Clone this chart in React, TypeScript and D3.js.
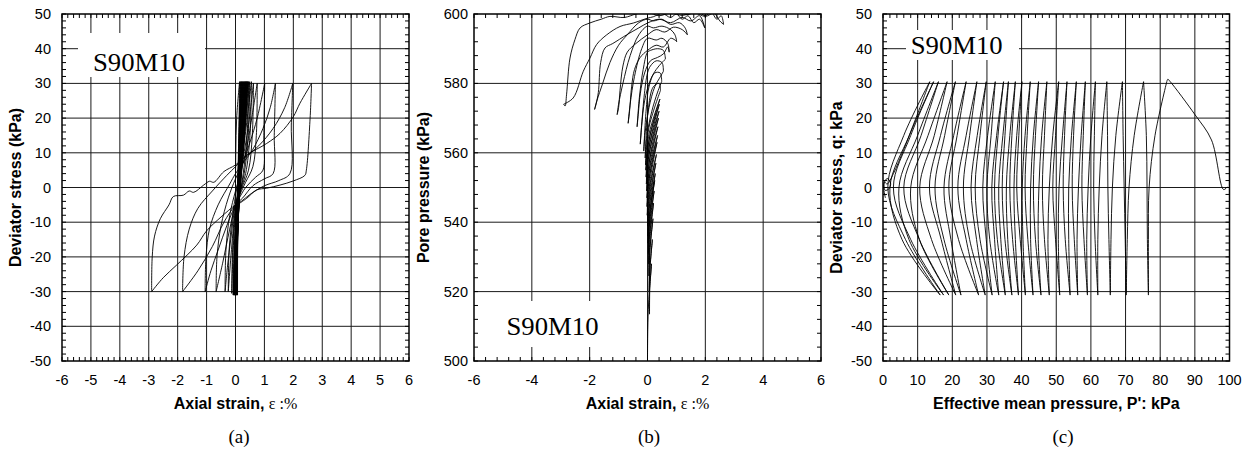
import React from "react";
import * as d3 from "d3";

type Pt = [number, number];

const W = 1258;
const H = 452;
const TOP = 14;
const BOTTOM = 361;
const SANS = "'Liberation Sans', Arial, Helvetica, sans-serif";
const SERIF = "'Liberation Serif', 'Times New Roman', Times, serif";

// ---------------- tick labels ----------------
const strainTicksA = [-6, -5, -4, -3, -2, -1, 0, 1, 2, 3, 4, 5, 6];
const strainTicksB = [-6, -4, -2, 0, 2, 4, 6];
const stressTicks = [-50, -40, -30, -20, -10, 0, 10, 20, 30, 40, 50];
const poreTicks = [500, 520, 540, 560, 580, 600];
const meanPTicks = [0, 10, 20, 30, 40, 50, 60, 70, 80, 90, 100];
const specimen = "S90M10";

// ---------------- panel (a): axial strain vs deviator stress ----------------
const aInitialLoading: Pt[] = [[0, 0], [0.01, 10], [0.04, 20], [0.14, 30.5]];
// early cycles (dense band): strain at stress levels
const aBandStressLevels = [30.5, 10, -5, -31];
const aBandTop = [0.14, 0.17, 0.19, 0.21, 0.23, 0.25, 0.27, 0.29, 0.31, 0.33, 0.35, 0.36, 0.38, 0.40, 0.41, 0.43, 0.45];
const aBandQ10Down = [0.11, 0.13, 0.14, 0.15, 0.16, 0.17, 0.18, 0.19, 0.20, 0.21, 0.22, 0.23, 0.24, 0.25, 0.26, 0.27];
const aBandMidDown = [0.08, 0.09, 0.09, 0.10, 0.10, 0.10, 0.11, 0.11, 0.11, 0.12, 0.12, 0.12, 0.12, 0.12, 0.12, 0.11];
const aBandBottom = [0.07, 0.06, 0.05, 0.04, 0.03, 0.02, 0.01, 0.0, -0.01, -0.02, -0.02, -0.03, -0.04, -0.05, -0.06, -0.07];
const aBandMidUp = [0.07, 0.07, 0.06, 0.06, 0.06, 0.06, 0.06, 0.06, 0.06, 0.06, 0.06, 0.05, 0.05, 0.05, 0.05, 0.05];
const aBandQ10Up = [0.10, 0.11, 0.12, 0.13, 0.14, 0.15, 0.16, 0.17, 0.18, 0.19, 0.20, 0.21, 0.22, 0.23, 0.24, 0.25];
// late cycles (large loops), legs in order
const aLargeLegs: Pt[][] = [
  [[0.45, 30.5], [0.4, 15], [0.25, 3], [0.08, -5], [0, -12], [-0.08, -31]],
  [[-0.08, -31], [-0.05, -18], [0.05, -5], [0.18, 5], [0.32, 16], [0.49, 30.5]],
  [[0.49, 30.5], [0.44, 15], [0.3, 4], [0.1, -3], [0, -8], [-0.08, -18], [-0.13, -30.5]],
  [[-0.13, -30.5], [-0.1, -18], [0.0, -6], [0.15, 3], [0.32, 14], [0.55, 30.5]],
  [[0.55, 30.5], [0.5, 15], [0.35, 4], [0.12, -2], [0, -6], [-0.12, -16], [-0.25, -30]],
  [[-0.25, -30], [-0.22, -18], [-0.1, -8], [0.05, 0], [0.25, 8], [0.45, 18], [0.62, 30]],
  [[0.62, 30], [0.58, 15], [0.45, 5], [0.2, -0.5], [0, -5], [-0.15, -14], [-0.28, -23], [-0.36, -30]],
  [[-0.36, -30], [-0.33, -18], [-0.2, -8], [0, -1], [0.2, 5], [0.4, 12], [0.58, 21], [0.75, 30]],
  [[0.75, 30], [0.72, 15], [0.6, 6], [0.35, 1.5], [0.15, -2], [0, -5], [-0.2, -12], [-0.45, -22], [-0.67, -30]],
  [[-0.67, -30], [-0.64, -20], [-0.5, -11], [-0.25, -3], [0, 2.5], [0.25, 7], [0.5, 13], [0.75, 20], [1.01, 30]],
  [[1.01, 30], [0.98, 15], [0.95, 5], [0.7, 3], [0.35, 0], [0.1, -3.5], [0, -5], [-0.3, -11], [-0.6, -18], [-0.85, -24], [-1.05, -30]],
  [[-1.05, -30], [-1.02, -20], [-0.9, -12], [-0.6, -5], [-0.2, 1], [0, 4], [0.3, 7.5], [0.6, 11], [0.95, 17], [1.2, 23], [1.38, 30]],
  [[1.38, 30], [1.34, 15], [1.3, 4], [1.0, 2.5], [0.6, 0.5], [0.25, -3], [0, -5], [-0.4, -10], [-0.8, -17], [-1.3, -24], [-1.83, -30]],
  [[-1.83, -30], [-1.78, -20], [-1.6, -12], [-1.3, -6], [-0.8, -1], [-0.3, 3.5], [0, 6], [0.3, 8.5], [0.8, 12], [1.3, 17], [1.7, 23], [1.98, 30]],
  [[1.98, 30], [1.93, 18], [1.88, 4], [1.5, 2], [1.0, 0.5], [0.5, -2], [0.2, -4], [0, -5], [-0.5, -8.5], [-1.0, -12.5], [-1.34, -16.6], [-2.03, -22.3], [-2.5, -26], [-2.9, -30]],
  [[-2.9, -30], [-2.88, -20], [-2.8, -14], [-2.6, -9], [-2.3, -5], [-2.15, -2.6], [-1.8, -2.2], [-1.6, -1.0], [-1.45, -1.4], [-1.1, 0.7], [-0.9, 1.8], [-0.75, 1.5], [-0.4, 4.6], [0, 6.5], [0.4, 9.4], [1.08, 12.7], [1.54, 15.6], [2.0, 20.4], [2.23, 24.3], [2.63, 30]],
  [[2.63, 30], [2.58, 20], [2.45, 5], [2.4, 3.5], [2.0, 1.9], [1.54, 0.7], [1.08, -0.2], [0.73, -0.7], [0.39, -3.1], [0.15, -4.5]],
];

// ---------------- panel (b): axial strain vs pore pressure ----------------
const bInitialLoading: Pt[] = [[0, 500.5], [0.01, 509], [0.04, 517], [0.14, 528]];
const bBandPoreTop = [528, 535, 541, 545.5, 549, 552, 554, 557, 559.5, 563, 565, 567.5, 570, 572, 574, 575.5, 578];
const bBandPoreMidDown = [520.8, 527.5, 532.8, 536.8, 540, 543, 545, 548, 550.8, 553.8, 556, 558.3, 560.5, 562.5, 564.5, 566];
const bBandPoreBottom = [513.5, 520, 524.5, 528, 531, 534, 536, 539, 542, 544.5, 547, 549, 551, 553, 555, 556.5];
const bBandPoreMidUp = [524.3, 530.5, 535, 538.5, 541.5, 544, 546.5, 549.3, 552.5, 554.8, 557.3, 559.5, 561.5, 563.5, 565.3, 567.3];
const bLargeLegs: Pt[][] = [
  [[0.45, 578], [0.4, 580], [0.2, 579], [0.02, 572], [-0.08, 558.5]],
  [[-0.08, 558.5], [-0.02, 565], [0.15, 572], [0.35, 577.5], [0.49, 580.5]],
  [[0.49, 580.5], [0.44, 583], [0.25, 583], [0.05, 579], [-0.05, 572], [-0.13, 560.5]],
  [[-0.13, 560.5], [-0.08, 566], [0.05, 573], [0.25, 579], [0.45, 582], [0.55, 583.5]],
  [[0.55, 583.5], [0.5, 586], [0.3, 586.5], [0.1, 585], [0, 583], [-0.12, 576], [-0.25, 562.5]],
  [[-0.25, 562.5], [-0.2, 568], [-0.1, 575], [0.1, 581], [0.3, 584], [0.5, 586], [0.62, 587]],
  [[0.62, 587], [0.55, 589.5], [0.35, 590], [0.1, 589.5], [0, 589], [-0.15, 584], [-0.28, 576], [-0.36, 567.5]],
  [[-0.36, 567.5], [-0.32, 571], [-0.25, 577], [-0.1, 583], [0.1, 586.5], [0.35, 587.5], [0.55, 588.5], [0.7, 590.5], [0.75, 589]],
  [[0.75, 589], [0.7, 591.5], [0.5, 593], [0.3, 592.5], [0, 593], [-0.2, 590], [-0.45, 582], [-0.6, 574], [-0.67, 568.5]],
  [[-0.67, 568.5], [-0.62, 572], [-0.55, 579], [-0.45, 584], [-0.25, 587.5], [0, 589.5], [0.3, 591], [0.55, 590.5], [0.8, 593], [0.95, 592.5], [1.01, 592]],
  [[1.01, 592], [0.95, 594], [0.8, 595.5], [0.5, 596.5], [0.2, 596], [0, 596.5], [-0.3, 594], [-0.6, 588], [-0.85, 580], [-1.0, 574], [-1.05, 571]],
  [[-1.05, 571], [-1.0, 573], [-0.95, 578], [-0.85, 585], [-0.7, 589], [-0.4, 591.5], [0, 594], [0.3, 595.5], [0.6, 594.8], [0.9, 596.2], [1.2, 595.5], [1.38, 594]],
  [[1.38, 594], [1.3, 596], [1.1, 597.5], [0.8, 597], [0.5, 598.5], [0.2, 598], [0, 598.5], [-0.3, 597.5], [-0.7, 594], [-1.0, 591], [-1.3, 586], [-1.55, 580], [-1.75, 575], [-1.83, 572.5]],
  [[-1.83, 572.5], [-1.78, 574], [-1.7, 577.4], [-1.62, 586], [-1.47, 590.2], [-1.2, 591.5], [-0.72, 594], [-0.3, 596], [0, 597.4], [0.4, 598.5], [0.8, 597.5], [1.2, 599], [1.5, 598], [1.8, 599.5], [1.98, 596]],
  [[1.98, 596], [1.8, 598.5], [1.6, 597.5], [1.4, 599.5], [1.2, 598.5], [1.0, 600], [0.8, 599], [0.5, 600.2], [0.2, 599.2], [0, 598.8], [-0.49, 597.4], [-0.95, 596.4], [-1.41, 594], [-1.76, 591.2], [-1.99, 587.3], [-2.22, 583.5], [-2.57, 575.8], [-2.9, 574]],
  [[-2.9, 574], [-2.85, 573.5], [-2.8, 576.7], [-2.68, 587.3], [-2.51, 592.6], [-2.33, 596], [-2.0, 597.4], [-1.6, 598.5], [-1.3, 599.3], [-0.8, 599], [-0.4, 600], [0, 600.5], [0.4, 599.5], [0.8, 600.3], [1.2, 599.6], [1.6, 600.4], [2.0, 599.3], [2.3, 600.2], [2.5, 598], [2.63, 597]],
  [[2.63, 597], [2.55, 599.5], [2.4, 598.5], [2.2, 600.5], [2.0, 599.5], [1.7, 600.8], [1.4, 599.8], [1.0, 600.6], [0.6, 600], [0.2, 600.5]],
];

// ---------------- panel (c): effective stress path ----------------
const cInitialPath: Pt[] = [[99.4, 0.2], [98.3, -0.6], [94.8, 13.7], [90.1, 20.9], [82.9, 30.5], [82.2, 31.2], [81.9, 30.5]];
// per cycle: mean effective stress at the deviator stress levels below
const cCycleStress = [30.5, 15, 0, -15, -31, -15, 0, 15];
const cCycleMeanP: number[][] = [
  [81.9, 78.5, 76.8, 76.6, 76.6, 76.3, 76.2, 76.0],
  [75.2, 72.5, 71.0, 70.5, 70.2, 69.9, 69.6, 69.3],
  [69.1, 67.2, 66.2, 65.8, 65.6, 65.2, 64.9, 64.8],
  [64.6, 63.2, 62.4, 62.0, 62.0, 61.2, 60.8, 61.0],
  [61.3, 60.0, 59.2, 58.8, 59.0, 58.0, 57.4, 57.8],
  [58.4, 57.2, 56.4, 56.0, 56.2, 55.2, 54.6, 55.0],
  [55.8, 54.4, 53.6, 53.6, 54.0, 52.6, 52.0, 52.4],
  [53.1, 51.8, 50.8, 50.6, 51.0, 49.8, 49.0, 49.8],
  [50.7, 49.0, 48.0, 47.6, 48.0, 46.6, 46.0, 46.6],
  [47.3, 45.8, 45.0, 44.8, 45.6, 44.0, 43.4, 44.0],
  [44.9, 43.4, 42.6, 42.6, 43.3, 41.8, 41.0, 41.6],
  [42.5, 41.0, 40.2, 40.4, 41.1, 39.6, 38.6, 39.2],
  [40.1, 38.6, 37.8, 38.2, 39.1, 37.4, 36.6, 37.2],
  [38.2, 36.6, 35.6, 36.0, 37.2, 35.2, 34.4, 35.2],
  [36.2, 34.6, 33.4, 34.0, 35.3, 33.0, 32.2, 33.2],
  [34.8, 32.8, 31.4, 32.2, 33.4, 30.8, 30.0, 31.2],
  [32.4, 30.2, 28.8, 29.8, 31.5, 28.0, 26.6, 28.0],
  [29.8, 27.2, 25.4, 27.0, 29.5, 25.0, 23.2, 25.0],
  [27.1, 24.0, 21.6, 24.0, 27.6, 21.8, 19.0, 21.4],
  [24.0, 20.4, 17.6, 19.6, 22.5, 17.6, 15.0, 17.8],
  [20.9, 16.6, 13.4, 16.8, 21.0, 14.0, 10.6, 14.8],
  [18.5, 13.0, 8.0, 10.5, 19.0, 10.5, 6.0, 11.0],
  [16.0, 10.0, 4.6, 7.5, 17.5, 8.0, 3.0, 8.0],
  [14.6, 7.6, 2.0, 5.5, 16.5, 6.5, 1.4, 6.0],
];
const cFinalTopP = 13.5;
const cFinalPath: Pt[] = [[13.5, 30.5], [9.5, 20], [6.0, 11], [3.0, 4], [1.2, 1.0], [0.4, 1.6], [0.6, -0.8], [1.7, -0.4], [2.2, 1.3], [1.2, 2.6], [0.2, 0.8], [0.7, -3.0]];

// ---------------- assemble legs ----------------
function legsA(): Pt[][] {
  const legs: Pt[][] = [aInitialLoading];
  const [qT, q10, qM, qB] = aBandStressLevels;
  aBandBottom.forEach((b, k) => {
    legs.push([[aBandTop[k], qT], [aBandQ10Down[k], q10], [aBandMidDown[k], qM], [b, qB]]);
    legs.push([[b, qB], [aBandMidUp[k], qM], [aBandQ10Up[k], q10], [aBandTop[k + 1], qT]]);
  });
  return legs.concat(aLargeLegs);
}

function legsB(): Pt[][] {
  const legs: Pt[][] = [bInitialLoading];
  aBandBottom.forEach((b, k) => {
    legs.push([[aBandTop[k], bBandPoreTop[k]], [aBandMidDown[k], bBandPoreMidDown[k]], [b, bBandPoreBottom[k]]]);
    legs.push([[b, bBandPoreBottom[k]], [aBandMidUp[k], bBandPoreMidUp[k]], [aBandTop[k + 1], bBandPoreTop[k + 1]]]);
  });
  return legs.concat(bLargeLegs);
}

function legsC(): Pt[][] {
  const legs: Pt[][] = [cInitialPath];
  cCycleMeanP.forEach((cyc, k) => {
    const nextTop = k + 1 < cCycleMeanP.length ? cCycleMeanP[k + 1][0] : cFinalTopP;
    const down: Pt[] = [0, 1, 2, 3, 4].map((i) => [cyc[i], cCycleStress[i]] as Pt);
    const up: Pt[] = [4, 5, 6, 7].map((i) => [cyc[i], cCycleStress[i]] as Pt);
    up.push([nextTop, cCycleStress[0]]);
    legs.push(down, up);
  });
  legs.push(cFinalPath);
  return legs;
}

interface Tag { x0: number; x1: number; y0: number; y1: number; tx: number; ty: number }
interface PanelSpec {
  id: string;
  left: number;
  right: number;
  xDomain: [number, number];
  yDomain: [number, number];
  xTicks: number[];
  yTicks: number[];
  xMinor: number;
  yMinor: number;
  yTickGap: number;
  yTitle: string;
  yTitleX: number;
  xTitle: React.ReactNode;
  caption: string;
  captionX: number;
  tag: Tag;
  paths: Pt[][];
}

function Panel({ s }: { s: PanelSpec }) {
  const x = d3.scaleLinear().domain(s.xDomain).range([s.left, s.right]);
  const y = d3.scaleLinear().domain(s.yDomain).range([BOTTOM, TOP]);
  const line = d3
    .line<Pt>()
    .x((d) => x(d[0]))
    .y((d) => y(d[1]))
    .curve(d3.curveCatmullRom.alpha(0.5));
  const eps = 1e-7;
  const xMinor = d3.range(s.xDomain[0], s.xDomain[1] + eps, s.xMinor);
  const yMinor = d3.range(s.yDomain[0], s.yDomain[1] + eps, s.yMinor);
  const TL = 4;
  const cx = (s.left + s.right) / 2;
  const cy = (TOP + BOTTOM) / 2;
  return (
    <g>
      <defs>
        <clipPath id={`clip-${s.id}`}>
          <rect x={s.left} y={TOP} width={s.right - s.left} height={BOTTOM - TOP} />
        </clipPath>
      </defs>
      {s.xTicks.slice(1, -1).map((t) => (
        <line key={`gx${t}`} x1={x(t)} x2={x(t)} y1={TOP} y2={BOTTOM} stroke="#1a1a1a" strokeWidth={1} />
      ))}
      {s.yTicks.slice(1, -1).map((t) => (
        <line key={`gy${t}`} x1={s.left} x2={s.right} y1={y(t)} y2={y(t)} stroke="#1a1a1a" strokeWidth={1} />
      ))}
      <rect x={s.tag.x0} y={s.tag.y0} width={s.tag.x1 - s.tag.x0} height={s.tag.y1 - s.tag.y0} fill="#fff" />
      <text x={s.tag.tx} y={s.tag.ty} textAnchor="middle" fontFamily={SERIF} fontSize={25} textLength={92} lengthAdjust="spacingAndGlyphs" fill="#000">
        {specimen}
      </text>
      <g clipPath={`url(#clip-${s.id})`}>
        {s.paths.map((p, i) => (
          <path key={i} d={line(p) || ""} fill="none" stroke="#000" strokeWidth={0.9} strokeLinejoin="round" />
        ))}
      </g>
      {xMinor.map((t, i) => (
        <g key={`mx${i}`}>
          <line x1={x(t)} x2={x(t)} y1={BOTTOM} y2={BOTTOM - TL} stroke="#000" strokeWidth={1} />
          <line x1={x(t)} x2={x(t)} y1={TOP} y2={TOP + TL} stroke="#000" strokeWidth={1} />
        </g>
      ))}
      {yMinor.map((t, i) => (
        <g key={`my${i}`}>
          <line x1={s.left} x2={s.left + TL} y1={y(t)} y2={y(t)} stroke="#000" strokeWidth={1} />
          <line x1={s.right} x2={s.right - TL} y1={y(t)} y2={y(t)} stroke="#000" strokeWidth={1} />
        </g>
      ))}
      <rect x={s.left} y={TOP} width={s.right - s.left} height={BOTTOM - TOP} fill="none" stroke="#000" strokeWidth={1.5} />
      {s.xTicks.map((t) => (
        <text key={`lx${t}`} x={x(t)} y={385} textAnchor="middle" fontFamily={SANS} fontSize={14.5} fill="#000">
          {String(t)}
        </text>
      ))}
      {s.yTicks.map((t) => (
        <text key={`ly${t}`} x={s.left - s.yTickGap} y={y(t) + 5} textAnchor="end" fontFamily={SANS} fontSize={14.5} fill="#000">
          {String(t)}
        </text>
      ))}
      <text x={cx} y={409} textAnchor="middle" fill="#000">
        {s.xTitle}
      </text>
      <text transform={`translate(${s.yTitleX},${cy}) rotate(-90)`} textAnchor="middle" fontFamily={SANS} fontWeight="bold" fontSize={16} fill="#000">
        {s.yTitle}
      </text>
      <text x={s.captionX} y={443} textAnchor="middle" fontFamily={SERIF} fontSize={19} fill="#000">
        {s.caption}
      </text>
    </g>
  );
}

const strainTitle = (
  <>
    <tspan fontFamily={SANS} fontWeight="bold" fontSize={16}>Axial strain, </tspan>
    <tspan fontFamily={SERIF} fontSize={16}>ε :%</tspan>
  </>
);

export default function App() {
  const panels: PanelSpec[] = [
    {
      id: "a",
      left: 62,
      right: 409,
      xDomain: [-6, 6],
      yDomain: [-50, 50],
      xTicks: strainTicksA,
      yTicks: stressTicks,
      xMinor: 0.2,
      yMinor: 2,
      yTickGap: 11,
      yTitle: "Deviator stress (kPa)",
      yTitleX: 21,
      xTitle: strainTitle,
      caption: "(a)",
      captionX: 239,
      tag: { x0: 78, x1: 205, y0: 33, y1: 77, tx: 139, ty: 71 },
      paths: legsA(),
    },
    {
      id: "b",
      left: 474,
      right: 821,
      xDomain: [-6, 6],
      yDomain: [500, 600],
      xTicks: strainTicksB,
      yTicks: poreTicks,
      xMinor: 0.4,
      yMinor: 4,
      yTickGap: 6,
      yTitle: "Pore pressure (kPa)",
      yTitleX: 429,
      xTitle: strainTitle,
      caption: "(b)",
      captionX: 649,
      tag: { x0: 497, x1: 607, y0: 301, y1: 347, tx: 552.5, ty: 335 },
      paths: legsB(),
    },
    {
      id: "c",
      left: 883,
      right: 1229.5,
      xDomain: [0, 100],
      yDomain: [-50, 50],
      xTicks: meanPTicks,
      yTicks: stressTicks,
      xMinor: 2,
      yMinor: 2,
      yTickGap: 11,
      yTitle: "Deviator stress, q: kPa",
      yTitleX: 842,
      xTitle: (
        <tspan fontFamily={SANS} fontWeight="bold" fontSize={16}>
          Effective mean pressure, P': kPa
        </tspan>
      ),
      caption: "(c)",
      captionX: 1063,
      tag: { x0: 906, x1: 1019, y0: 30, y1: 60, tx: 956.7, ty: 53.5 },
      paths: legsC(),
    },
  ];
  return (
    <svg
      width={W}
      height={H}
      viewBox={`0 0 ${W} ${H}`}
      style={{ position: "absolute", left: 0, top: 0, background: "#fff" }}
    >
      <rect x={0} y={0} width={W} height={H} fill="#fff" />
      {panels.map((p) => (
        <Panel key={p.id} s={p} />
      ))}
    </svg>
  );
}
